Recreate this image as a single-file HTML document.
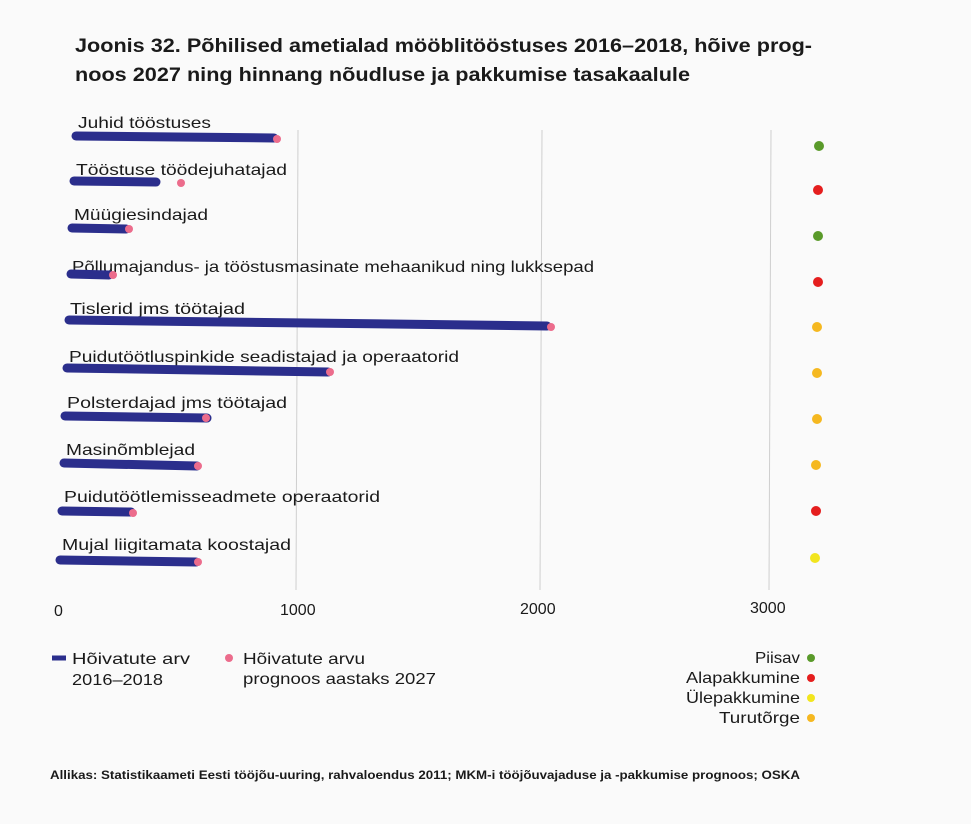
<!DOCTYPE html>
<html><head><meta charset="utf-8"><style>
body{margin:0;background:#fbfbfb;}
svg{display:block;font-family:"Liberation Sans",sans-serif;}
</style></head><body>
<svg width="971" height="824" viewBox="0 0 971 824">
<rect width="971" height="824" fill="#fafafa"/>
<text x="75" y="52" font-size="19" font-weight="bold" fill="#1a1a1a" textLength="737" lengthAdjust="spacingAndGlyphs">Joonis 32. Põhilised ametialad mööblitööstuses 2016–2018, hõive prog-</text>
<text x="75" y="81" font-size="19" font-weight="bold" fill="#1a1a1a" textLength="615" lengthAdjust="spacingAndGlyphs">noos 2027 ning hinnang nõudluse ja pakkumise tasakaalule</text>
<g stroke="#cfcfcf" stroke-width="1">
<line x1="298" y1="130" x2="296" y2="590"/>
<line x1="542" y1="130" x2="540" y2="590"/>
<line x1="771" y1="130" x2="769" y2="590"/>
</g>
<g font-size="16" fill="#1a1a1a">
<text x="78" y="128" textLength="133" lengthAdjust="spacingAndGlyphs">Juhid tööstuses</text>
<text x="76" y="175" textLength="211" lengthAdjust="spacingAndGlyphs">Tööstuse töödejuhatajad</text>
<text x="74" y="220" textLength="134" lengthAdjust="spacingAndGlyphs">Müügiesindajad</text>
<text x="72" y="272" textLength="522" lengthAdjust="spacingAndGlyphs">Põllumajandus- ja tööstusmasinate mehaanikud ning lukksepad</text>
<text x="70" y="314" textLength="175" lengthAdjust="spacingAndGlyphs">Tislerid jms töötajad</text>
<text x="69" y="362" textLength="390" lengthAdjust="spacingAndGlyphs">Puidutöötluspinkide seadistajad ja operaatorid</text>
<text x="67" y="408" textLength="220" lengthAdjust="spacingAndGlyphs">Polsterdajad jms töötajad</text>
<text x="66" y="455" textLength="129" lengthAdjust="spacingAndGlyphs">Masinõmblejad</text>
<text x="64" y="502" textLength="316" lengthAdjust="spacingAndGlyphs">Puidutöötlemisseadmete operaatorid</text>
<text x="62" y="550" textLength="229" lengthAdjust="spacingAndGlyphs">Mujal liigitamata koostajad</text>
</g>
<g stroke="#2b2e8c" stroke-width="9" stroke-linecap="round">
<line x1="76" y1="136" x2="274" y2="138"/>
<line x1="74" y1="181" x2="156" y2="182"/>
<line x1="72" y1="228" x2="126" y2="229"/>
<line x1="71" y1="274" x2="109" y2="275"/>
<line x1="69" y1="320" x2="547" y2="326"/>
<line x1="67" y1="368" x2="328" y2="372"/>
<line x1="65" y1="416" x2="207" y2="418"/>
<line x1="64" y1="463" x2="197" y2="466"/>
<line x1="62" y1="511" x2="131" y2="512"/>
<line x1="60" y1="560" x2="196" y2="562"/>
</g>
<g fill="#ec6c8c">
<circle cx="277" cy="139" r="4"/><circle cx="181" cy="183" r="4"/>
<circle cx="129" cy="229" r="4"/><circle cx="113" cy="275" r="4"/>
<circle cx="551" cy="327" r="4"/><circle cx="330" cy="372" r="4"/>
<circle cx="206" cy="418" r="4"/><circle cx="198" cy="466" r="4"/>
<circle cx="133" cy="513" r="4"/><circle cx="198" cy="562" r="4"/>
</g>
<g>
<circle cx="819" cy="146" r="5" fill="#5a9a2a"/>
<circle cx="818" cy="190" r="5" fill="#e51e1e"/>
<circle cx="818" cy="236" r="5" fill="#5a9a2a"/>
<circle cx="818" cy="282" r="5" fill="#e51e1e"/>
<circle cx="817" cy="327" r="5" fill="#f5b820"/>
<circle cx="817" cy="373" r="5" fill="#f5b820"/>
<circle cx="817" cy="419" r="5" fill="#f5b820"/>
<circle cx="816" cy="465" r="5" fill="#f5b820"/>
<circle cx="816" cy="511" r="5" fill="#e51e1e"/>
<circle cx="815" cy="558" r="5" fill="#f2e51e"/>
</g>
<g font-size="16" fill="#1a1a1a">
<text x="54" y="616">0</text>
<text x="280" y="615">1000</text>
<text x="520" y="614">2000</text>
<text x="750" y="613">3000</text>
</g>
<line x1="52" y1="658" x2="66" y2="658" stroke="#2b2e8c" stroke-width="5"/>
<g font-size="16" fill="#1a1a1a">
<text x="72" y="664" textLength="118" lengthAdjust="spacingAndGlyphs">Hõivatute arv</text>
<text x="72" y="685" textLength="91" lengthAdjust="spacingAndGlyphs">2016–2018</text>
<circle cx="229" cy="658" r="4" fill="#ec6c8c"/>
<text x="243" y="664" textLength="122" lengthAdjust="spacingAndGlyphs">Hõivatute arvu</text>
<text x="243" y="684" textLength="193" lengthAdjust="spacingAndGlyphs">prognoos aastaks 2027</text>
<text x="755" y="663" textLength="45" lengthAdjust="spacingAndGlyphs">Piisav</text>
<text x="686" y="683" textLength="114" lengthAdjust="spacingAndGlyphs">Alapakkumine</text>
<text x="686" y="703" textLength="114" lengthAdjust="spacingAndGlyphs">Ülepakkumine</text>
<text x="719" y="723" textLength="81" lengthAdjust="spacingAndGlyphs">Turutõrge</text>
</g>
<circle cx="811" cy="658" r="4" fill="#5a9a2a"/>
<circle cx="811" cy="678" r="4" fill="#e51e1e"/>
<circle cx="811" cy="698" r="4" fill="#f2e51e"/>
<circle cx="811" cy="718" r="4" fill="#f5b820"/>
<text x="50" y="779" font-size="12" font-weight="bold" fill="#1a1a1a" textLength="750" lengthAdjust="spacingAndGlyphs">Allikas: Statistikaameti Eesti tööjõu-uuring, rahvaloendus 2011; MKM-i tööjõuvajaduse ja -pakkumise prognoos; OSKA</text>
</svg>
</body></html>
